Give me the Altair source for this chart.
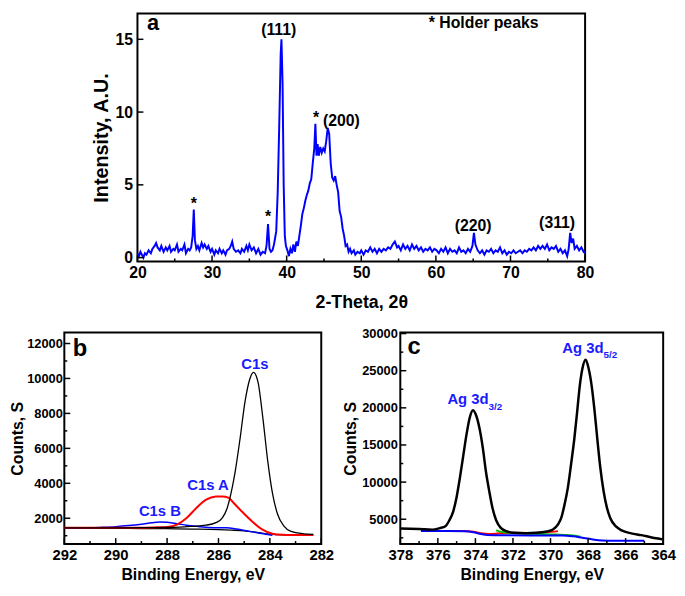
import altair as alt
import pandas as pd

FONT = "Liberation Sans"
TXT_BLUE = "#1a1aff"

# ---------------- Panel a : XRD ----------------
xrd_points = [
    (20.0, 0.3), (20.2, 0.1), (20.4, 0.4), (20.6, 0.2), (20.8, 0.0), (21.0, 0.3), (21.2, 0.2),
    (21.5, 0.5), (21.8, 0.3), (22.0, 0.6), (22.3, 0.8), (22.5, 1.0), (22.7, 0.7), (23.0, 0.5),
    (23.2, 0.8), (23.5, 0.4), (23.8, 0.7), (24.0, 0.5), (24.3, 0.8), (24.5, 0.4), (24.8, 0.6),
    (25.0, 0.5), (25.3, 0.9), (25.5, 0.4), (25.8, 0.6), (26.0, 0.5), (26.3, 0.9), (26.5, 0.3),
    (26.8, 0.6), (27.0, 0.5), (27.2, 0.7), (27.4, 1.5), (27.55, 3.3), (27.7, 1.2), (27.9, 0.6),
    (28.1, 0.8), (28.3, 0.5), (28.6, 1.0), (28.8, 0.7), (29.0, 0.9), (29.3, 0.6), (29.5, 0.8),
    (29.8, 0.4), (30.0, 0.6), (30.3, 0.2), (30.5, 0.5), (30.8, 0.3), (31.0, 0.6), (31.3, 0.3),
    (31.5, 0.5), (31.8, 0.2), (32.0, 0.5), (32.3, 0.6), (32.5, 0.8), (32.7, 1.1), (32.9, 0.6),
    (33.2, 0.4), (33.5, 0.5), (33.8, 0.3), (34.0, 0.6), (34.3, 0.4), (34.6, 0.8), (34.8, 0.5),
    (35.0, 0.9), (35.3, 0.5), (35.6, 0.7), (35.9, 0.3), (36.2, 0.6), (36.5, 0.2), (36.8, 0.4),
    (37.1, 0.3), (37.3, 0.8), (37.5, 2.3), (37.7, 0.6), (37.9, 0.4), (38.1, 0.5), (38.3, 0.9),
    (38.6, 1.8), (38.8, 4.5), (39.0, 9.0), (39.2, 14.0), (39.3, 15.0), (39.45, 12.0), (39.6, 5.0),
    (39.75, 1.5), (39.9, 0.8), (40.1, 0.5), (40.3, 0.1), (40.5, 0.6), (40.7, 0.3), (40.9, 0.9),
    (41.1, 0.4), (41.3, 1.1), (41.5, 0.8), (41.7, 1.5), (41.9, 2.2), (42.1, 3.0), (42.3, 3.4),
    (42.5, 3.9), (42.7, 4.3), (42.9, 4.6), (43.1, 5.1), (43.3, 5.4), (43.5, 6.5), (43.7, 7.5),
    (43.85, 9.2), (44.0, 7.0), (44.15, 7.8), (44.3, 7.0), (44.5, 7.6), (44.7, 7.2), (44.9, 7.5),
    (45.1, 7.3), (45.3, 8.0), (45.5, 8.9), (45.7, 8.5), (45.9, 6.5), (46.1, 5.5), (46.3, 5.3),
    (46.5, 5.6), (46.7, 5.0), (46.9, 4.5), (47.1, 3.2), (47.3, 2.8), (47.5, 2.0), (47.7, 1.5),
    (47.9, 0.8), (48.1, 0.9), (48.3, 0.4), (48.5, 0.6), (48.7, 0.3), (49.0, 0.5), (49.2, 0.2),
    (49.5, 0.4), (49.8, 0.3), (50.0, 0.5), (50.3, 0.2), (50.6, 0.5), (50.9, 0.4), (51.2, 0.7),
    (51.5, 0.4), (51.8, 0.6), (52.1, 0.3), (52.4, 0.6), (52.7, 0.4), (53.0, 0.6), (53.3, 0.5),
    (53.6, 0.7), (53.9, 0.6), (54.2, 0.9), (54.5, 1.1), (54.8, 0.7), (55.0, 0.8), (55.3, 0.5),
    (55.6, 0.9), (55.9, 0.6), (56.2, 0.8), (56.5, 0.5), (56.8, 0.9), (57.1, 0.6), (57.4, 0.8),
    (57.7, 0.5), (58.0, 0.7), (58.3, 0.4), (58.6, 0.6), (58.9, 0.5), (59.2, 0.7), (59.5, 0.4),
    (59.8, 0.6), (60.1, 0.5), (60.4, 0.3), (60.7, 0.6), (61.0, 0.4), (61.3, 0.7), (61.6, 0.3),
    (61.9, 0.6), (62.2, 0.4), (62.5, 0.5), (62.8, 0.3), (63.1, 0.7), (63.4, 0.4), (63.7, 0.5),
    (64.0, 0.3), (64.3, 0.6), (64.6, 0.4), (64.9, 0.8), (65.1, 1.7), (65.3, 0.9), (65.6, 0.5),
    (65.9, 0.3), (66.2, 0.5), (66.5, 0.2), (66.8, 0.5), (67.1, 0.4), (67.4, 0.6), (67.7, 0.3),
    (68.0, 0.5), (68.3, 0.4), (68.6, 0.7), (68.9, 0.3), (69.2, 0.5), (69.5, 0.2), (69.8, 0.4),
    (70.1, 0.3), (70.4, 0.5), (70.7, 0.3), (71.0, 0.4), (71.3, 0.5), (71.6, 0.3), (71.9, 0.5),
    (72.2, 0.4), (72.5, 0.6), (72.8, 0.5), (73.1, 0.7), (73.4, 0.5), (73.7, 0.8), (74.0, 0.6),
    (74.3, 0.8), (74.6, 0.6), (74.9, 0.9), (75.2, 0.5), (75.5, 0.7), (75.8, 0.6), (76.1, 0.8),
    (76.4, 0.4), (76.7, 0.6), (77.0, 0.3), (77.3, 0.5), (77.6, 0.1), (77.8, 0.6), (78.0, 1.7),
    (78.2, 1.0), (78.4, 1.3), (78.6, 0.6), (78.9, 0.8), (79.2, 0.5), (79.5, 0.7), (79.8, 0.4),
    (80.0, 0.3),
]
xrd_labels = ["(111)", "*", "*", "*", "(200)", "(220)", "(311)"]
xrd_label_x = [38.94, 27.55, 37.5, 43.93, 47.33, 64.99, 76.25]
xrd_label_y = [15.66, 3.7, 2.76, 9.59, 9.4, 2.17, 2.39]
xrd_x_ticks = [20, 30, 40, 50, 60, 70, 80]
xrd_x_minor = [25, 35, 45, 55, 65, 75]
xrd_y_ticks = [0, 5, 10, 15]

# ---------------- Panel b : C1s ----------------
c1s_envelope = [
    (292.0, 1450), (291.0, 1450), (290.0, 1450), (289.0, 1460), (288.0, 1470), (287.5, 1490),
    (287.0, 1540), (286.5, 1600), (286.1, 1750), (285.85, 2020), (285.66, 2590), (285.47, 3720),
    (285.35, 4670), (285.16, 6560), (284.97, 8650), (284.78, 9970), (284.64, 10350),
    (284.46, 9780), (284.27, 7700), (284.08, 5240), (283.89, 3360), (283.7, 2230),
    (283.45, 1550), (283.2, 1260), (282.69, 1110), (282.31, 1080),
]
c1s_a = [
    (292.0, 1450), (290.0, 1450), (289.0, 1460), (288.3, 1480), (288.0, 1500), (287.62, 1640),
    (287.24, 2020), (286.86, 2590), (286.48, 3060), (286.1, 3240), (285.85, 3250), (285.6, 3170),
    (285.47, 2970), (285.1, 2400), (284.7, 1830), (284.3, 1360), (283.9, 1110), (283.5, 1050),
    (283.2, 1040), (282.31, 1040),
]
c1s_b = [
    (292.0, 1440), (291.0, 1450), (290.5, 1480), (290.0, 1520), (289.5, 1580), (289.0, 1660),
    (288.6, 1740), (288.3, 1790), (288.0, 1770), (287.6, 1690), (287.24, 1600), (286.8, 1530),
    (286.48, 1490), (286.0, 1460), (285.7, 1450), (285.3, 1380), (284.97, 1300), (284.5, 1170),
    (283.9, 1030),
]
c1s_background = [
    (292.0, 1430), (290.0, 1420), (289.0, 1410), (288.0, 1400), (287.0, 1380), (286.0, 1350),
    (285.5, 1320), (285.0, 1280), (284.5, 1190), (284.0, 1090), (283.5, 1050), (282.31, 1030),
]
c1s_labels = ["C1s", "C1s A", "C1s B"]
c1s_label_x = [284.58, 286.41, 288.28]
c1s_label_y = [10824, 3915, 2437]
c1s_x_ticks = [292, 290, 288, 286, 284, 282]
c1s_x_minor = [291, 289, 287, 285, 283]
c1s_y_ticks = [2000, 4000, 6000, 8000, 10000, 12000]
c1s_y_minor = [1000, 3000, 5000, 7000, 9000, 11000]

# ---------------- Panel c : Ag 3d ----------------
ag_envelope = [
    (378.0, 3760), (377.0, 3680), (376.3, 3600), (375.9, 3800), (375.6, 4060), (375.4, 4800),
    (375.18, 6070), (375.0, 8000), (374.83, 10520), (374.65, 13500), (374.48, 16320),
    (374.3, 18700), (374.13, 19670), (373.95, 18900), (373.78, 17210), (373.6, 14500),
    (373.44, 11420), (373.25, 8600), (373.09, 6510), (372.9, 4900), (372.65, 3840),
    (372.3, 3350), (371.96, 3170), (371.3, 3120), (370.74, 3170), (370.2, 3350),
    (369.87, 3620), (369.6, 4300), (369.43, 5170), (369.25, 7000), (369.08, 9190),
    (368.9, 12500), (368.73, 15870), (368.58, 19500), (368.44, 23000), (368.3, 25300),
    (368.13, 26480), (367.97, 25300), (367.81, 23000), (367.65, 19500), (367.51, 15870),
    (367.35, 12000), (367.17, 8740), (367.0, 6600), (366.82, 5170), (366.5, 4000),
    (366.21, 3490), (365.7, 3100), (365.16, 2860), (364.6, 2550), (364.03, 2290),
]
ag_red = [
    (376.9, 3420), (375.5, 3430), (374.6, 3420), (374.1, 3300), (373.7, 3100), (373.3, 3000),
    (372.7, 3100), (372.0, 3170), (371.0, 3150), (370.2, 3250), (369.6, 3400),
]
ag_green = [
    (372.9, 3500), (372.5, 3250), (372.0, 3150), (371.0, 3050), (370.0, 2950), (369.3, 2880),
    (368.8, 2800), (368.4, 2650),
]
ag_blue = [
    (376.9, 3400), (375.5, 3400), (374.57, 3380), (374.1, 3250), (373.7, 3000), (373.35, 2860),
    (372.5, 2830), (371.0, 2820), (369.35, 2820), (368.8, 2700), (368.3, 2500), (367.8, 2300),
    (367.25, 2150), (366.5, 2110), (365.0, 2100),
]
ag_main_labels = ["Ag 3d", "Ag 3d"]
ag_sub_labels = ["3/2", "5/2"]
ag_label_x = [373.30, 367.18]
ag_main_y = [21140, 28000]
ag_sub_y = [20110, 27060]
ag_x_ticks = [378, 376, 374, 372, 370, 368, 366, 364]
ag_x_minor = [377, 375, 373, 371, 369, 367, 365]
ag_y_ticks = [5000, 10000, 15000, 20000, 25000, 30000]
ag_y_minor = [2500, 7500, 12500, 17500, 22500, 27500]


def df_xy(points):
    return pd.DataFrame({"x": [p[0] for p in points], "y": [p[1] for p in points]})


def axis(values, title, label_size, title_size, label_pad, title_pad):
    return alt.Axis(values=values, title=title, ticks=False, domain=False, grid=False, format="d",
                    labelFlush=False, labelOverlap=False, labelFontSize=label_size,
                    titleFontSize=title_size, labelPadding=label_pad, titlePadding=title_pad)


def tick_layers(xenc, yenc, H, xmaj, xmin, ymaj, ymin):
    layers = []
    for vals, L in ((xmaj, 6), (xmin, 3)):
        if vals:
            layers.append(alt.Chart(pd.DataFrame({"x": vals})).mark_rule(color="black", strokeWidth=1.5)
                          .encode(x=xenc, y=alt.value(H), y2=alt.value(H - L)))
    for vals, L in ((ymaj, 6), (ymin, 3)):
        if vals:
            layers.append(alt.Chart(pd.DataFrame({"y": vals})).mark_rule(color="black", strokeWidth=1.5)
                          .encode(y=yenc, x=alt.value(0), x2=alt.value(L)))
    return layers


def label_layer(texts, xs, ys, xenc, yenc, size, color, align="center", baseline="middle"):
    return alt.Chart(pd.DataFrame({"x": xs, "y": ys, "t": texts})).mark_text(
        font=FONT, fontWeight="bold", fontSize=size, color=color, align=align, baseline=baseline
    ).encode(x=xenc, y=yenc, text="t:N")


# ---- Panel a ----
WA, HA = 453, 251
xa = alt.X("x:Q", scale=alt.Scale(domain=[20, 80], nice=False, zero=False),
           axis=axis(xrd_x_ticks, "2-Theta, 2θ", 16, 18, 3, 14))
ya = alt.Y("y:Q", scale=alt.Scale(domain=[-0.263, 16.78], nice=False, zero=False),
           axis=axis(xrd_y_ticks, "Intensity, A.U.", 16, 20, 5, 4))
line_a = alt.Chart(df_xy(xrd_points)).mark_line(color="#0000ff", strokeWidth=2).encode(x=xa, y=ya)
panel_a = alt.layer(
    line_a,
    *tick_layers(xa, ya, HA, xrd_x_ticks, xrd_x_minor, xrd_y_ticks, []),
    label_layer(xrd_labels, xrd_label_x, xrd_label_y, xa, ya, 16, "black"),
    label_layer(["a"], [22.1], [16.1], xa, ya, 22, "black"),
    label_layer(["* Holder peaks"], [66.4], [16.1], xa, ya, 16, "black"),
).properties(width=WA, height=HA)

spacer = alt.Chart(pd.DataFrame({"x": [0]})).mark_point(opacity=0).properties(
    width=74, height=10, view=alt.ViewBackground(stroke="transparent"))

# ---- Panel b ----
WB, HB = 260, 214
xb = alt.X("x:Q", scale=alt.Scale(domain=[282, 292], reverse=True, nice=False, zero=False),
           axis=axis(c1s_x_ticks, "Binding Energy, eV", 15, 16, 4, 4))
yb = alt.Y("y:Q", scale=alt.Scale(domain=[523, 12625], nice=False, zero=False),
           axis=axis(c1s_y_ticks, "Counts, S", 13, 16, 2, 1))
panel_b = alt.layer(
    alt.Chart(df_xy(c1s_background)).mark_line(color="black", strokeWidth=1.3, interpolate="monotone").encode(x=xb, y=yb),
    alt.Chart(df_xy(c1s_b)).mark_line(color="#0000ff", strokeWidth=1.5, interpolate="monotone").encode(x=xb, y=yb),
    alt.Chart(df_xy(c1s_a)).mark_line(color="#ff0000", strokeWidth=2, interpolate="monotone").encode(x=xb, y=yb),
    alt.Chart(df_xy(c1s_envelope)).mark_line(color="black", strokeWidth=1.3, interpolate="monotone").encode(x=xb, y=yb),
    *tick_layers(xb, yb, HB, c1s_x_ticks, c1s_x_minor, c1s_y_ticks, c1s_y_minor),
    label_layer(c1s_labels, c1s_label_x, c1s_label_y, xb, yb, 15, TXT_BLUE),
    label_layer(["b"], [291.39], [11676], xb, yb, 24, "black"),
).properties(width=WB, height=HB)

# ---- Panel c ----
WC, HC = 266, 214
xc = alt.X("x:Q", scale=alt.Scale(domain=[364, 378], reverse=True, nice=False, zero=False),
           axis=axis(ag_x_ticks, "Binding Energy, eV", 15, 16, 4, 4))
yc = alt.Y("y:Q", scale=alt.Scale(domain=[1657, 30134], nice=False, zero=False),
           axis=axis(ag_y_ticks, "Counts, S", 13, 16, 3, 3))
panel_c = alt.layer(
    alt.Chart(df_xy(ag_red)).mark_line(color="#ff0000", strokeWidth=2, interpolate="monotone").encode(x=xc, y=yc),
    alt.Chart(df_xy(ag_green)).mark_line(color="#00c000", strokeWidth=2, interpolate="monotone").encode(x=xc, y=yc),
    alt.Chart(df_xy(ag_blue)).mark_line(color="#0000ff", strokeWidth=2, interpolate="monotone").encode(x=xc, y=yc),
    alt.Chart(df_xy(ag_envelope)).mark_line(color="black", strokeWidth=2.5, interpolate="monotone").encode(x=xc, y=yc),
    *tick_layers(xc, yc, HC, ag_x_ticks, ag_x_minor, ag_y_ticks, ag_y_minor),
    label_layer(ag_main_labels, ag_label_x, ag_main_y, xc, yc, 15, TXT_BLUE, align="right"),
    label_layer(ag_sub_labels, ag_label_x, ag_sub_y, xc, yc, 10, TXT_BLUE, align="left"),
    label_layer(["c"], [377.27], [28130], xc, yc, 24, "black"),
).properties(width=WC, height=HC)

top = alt.hconcat(spacer, panel_a, spacing=0, bounds="flush")
bottom = alt.hconcat(panel_b, panel_c, spacing=80, bounds="flush")

chart = alt.vconcat(top, bottom, spacing=14).configure(
    font=FONT, padding=0
).configure_view(
    stroke="black", strokeWidth=2
).configure_axis(
    labelFont=FONT, titleFont=FONT, labelFontWeight="bold", titleFontWeight="bold",
    labelColor="black", titleColor="black"
)

chart.save("out.html", embed_options={"renderer": "svg", "actions": False})
